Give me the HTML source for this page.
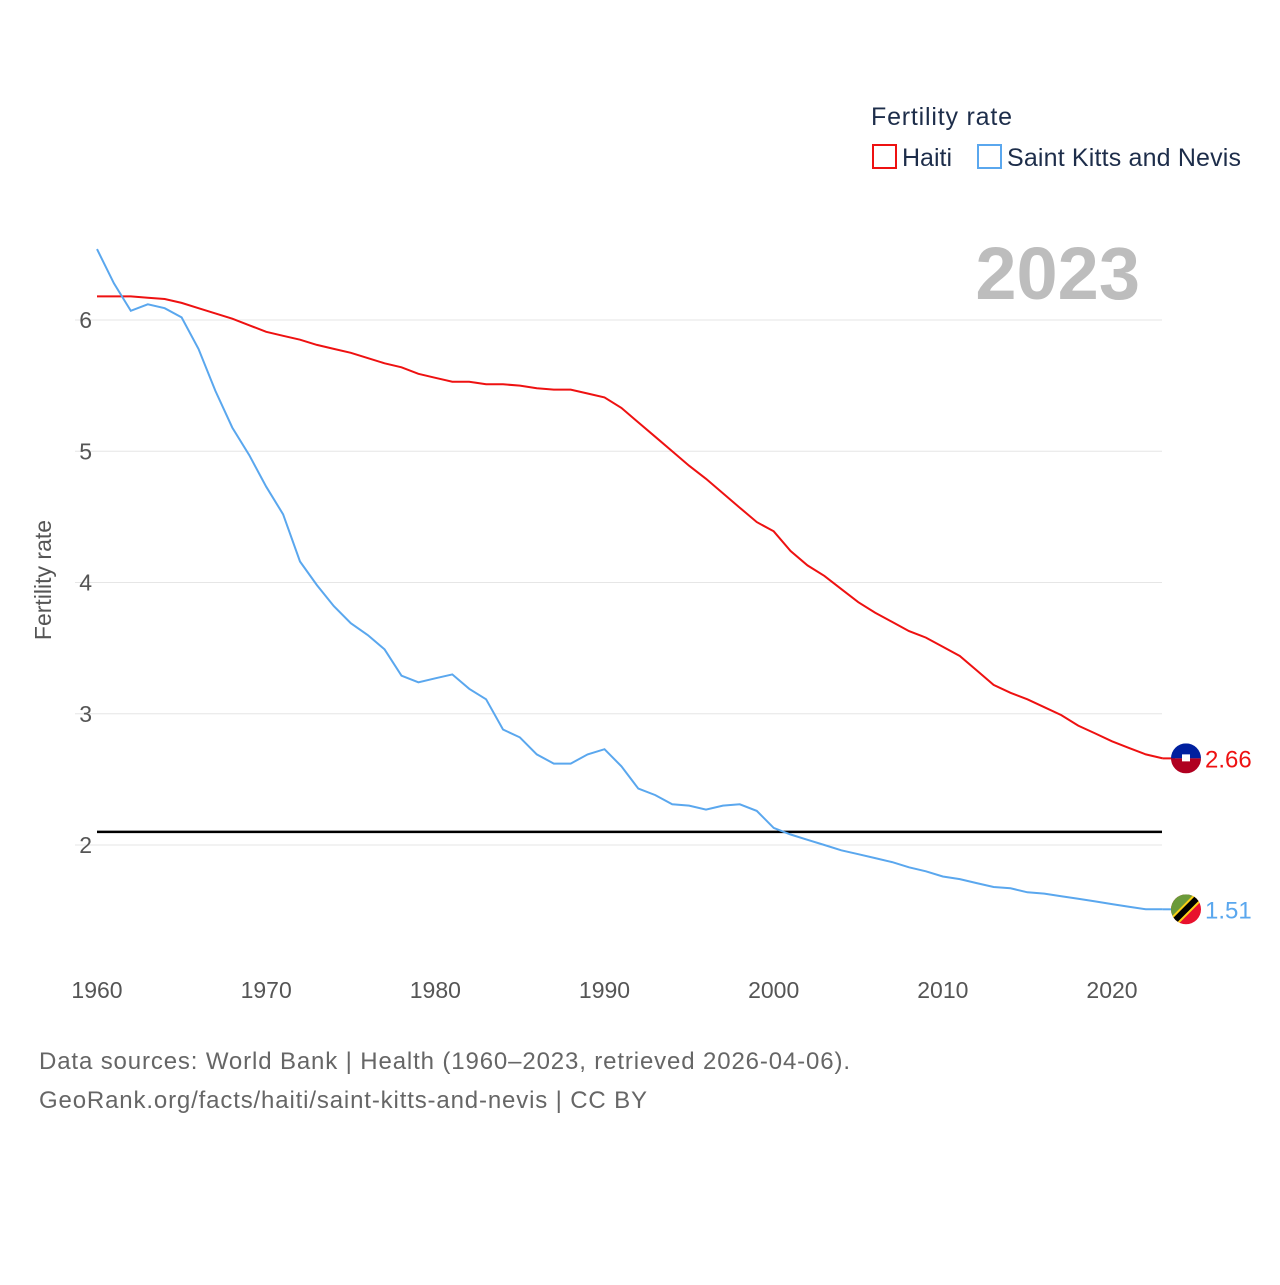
<!DOCTYPE html>
<html><head><meta charset="utf-8"><style>
body{margin:0;background:#fff}
svg text{font-family:"Liberation Sans",sans-serif}
</style></head><body>
<svg id="chart" width="1280" height="1280" viewBox="0 0 1280 1280" xmlns="http://www.w3.org/2000/svg">
<g id="grid"></g>
<g id="series"></g>
<text x="871" y="125" font-size="25" fill="#1d2d4a" textLength="141">Fertility rate</text>
<g><rect x="873" y="145" width="23" height="23" fill="none" stroke="#ee1111" stroke-width="2"/><text x="902" y="166" font-size="25" fill="#1d2d4a">Haiti</text></g>
<g><rect x="978" y="145" width="23" height="23" fill="none" stroke="#5aa7ee" stroke-width="2"/><text x="1007" y="166" font-size="25" fill="#1d2d4a" textLength="234">Saint Kitts and Nevis</text></g>
<text x="1140" y="299" font-size="74" font-weight="bold" fill="#bdbdbd" text-anchor="end">2023</text>
<text transform="translate(51,580) rotate(-90)" font-size="23" fill="#555" text-anchor="middle">Fertility rate</text>
<text x="39" y="1069" font-size="24" fill="#666" textLength="811">Data sources: World Bank | Health (1960–2023, retrieved 2026-04-06).</text>
<text x="39" y="1108" font-size="24" fill="#666" textLength="608">GeoRank.org/facts/haiti/saint-kitts-and-nevis | CC BY</text>
</svg>
<script>
const years=[];for(let y=1960;y<=2023;y++)years.push(y);
const haitiVals=[6.18,6.18,6.18,6.17,6.16,6.13,6.09,6.05,6.01,5.96,5.91,5.88,5.85,5.81,5.78,5.75,5.71,5.67,5.64,5.59,5.56,5.53,5.53,5.51,5.51,5.50,5.48,5.47,5.47,5.44,5.41,5.33,5.22,5.11,5.00,4.89,4.79,4.68,4.57,4.46,4.39,4.24,4.13,4.05,3.95,3.85,3.77,3.70,3.63,3.58,3.51,3.44,3.33,3.22,3.16,3.11,3.05,2.99,2.91,2.85,2.79,2.74,2.69,2.66];
const skn=[6.54,6.28,6.07,6.12,6.09,6.02,5.78,5.46,5.18,4.97,4.73,4.52,4.16,3.98,3.82,3.69,3.60,3.49,3.29,3.24,3.27,3.30,3.19,3.11,2.88,2.82,2.69,2.62,2.62,2.69,2.73,2.60,2.43,2.38,2.31,2.30,2.27,2.30,2.31,2.26,2.13,2.08,2.04,2.00,1.96,1.93,1.90,1.87,1.83,1.80,1.76,1.74,1.71,1.68,1.67,1.64,1.63,1.61,1.59,1.57,1.55,1.53,1.51,1.51];
const yTicks=[2,3,4,5,6];
const xTicks=[1960,1970,1980,1990,2000,2010,2020];
const replacement=2.1;
const NS="http://www.w3.org/2000/svg";
const X=y=>97+(y-1960)*(1112-97)/60;
const Y=v=>845-(v-2)*131.25;
const grid=document.getElementById('grid'),ser=document.getElementById('series');
function mk(tag,attrs,parent){const e=document.createElementNS(NS,tag);for(const k in attrs)e.setAttribute(k,attrs[k]);parent.appendChild(e);return e;}
yTicks.forEach(t=>{
 const l=mk('line',{x1:75,x2:1162,y1:Y(t),y2:Y(t),stroke:'#e6e6e6','stroke-width':1},grid);
 
 
 const tx=mk('text',{x:92,y:Y(t)+8,'font-size':23,fill:'#555','text-anchor':'end'},grid);tx.textContent=t;
 
 
});
xTicks.forEach(t=>{
 const tx=mk('text',{x:X(t),y:998,'font-size':23,fill:'#555','text-anchor':'middle'},grid);tx.textContent=t;
 
 
});
const rl=mk('line',{x1:97,x2:1162,y1:Y(replacement),y2:Y(replacement),stroke:'#000','stroke-width':2.5},ser);


function line(vals,color,name){
 const d=vals.map((v,i)=>(i?'L':'M')+X(years[i]).toFixed(1)+','+Y(v).toFixed(1)).join('');
 const p=mk('path',{d:d,fill:'none',stroke:color,'stroke-width':2},ser);
 
 
}
line(haitiVals,'#ee1111','haiti-line');
line(skn,'#5aa7ee','saint-kitts-line');
function endLabel(vals,color,name,flag){
 const v=vals[vals.length-1],x=X(years[years.length-1]),y=Y(v);
 mk('line',{x1:x,x2:1175,y1:y,y2:y,stroke:color,'stroke-width':2},ser);
 const g=mk('g',{},ser);
 
 
 const cx=1186;
 const cp=mk('clipPath',{id:'c'+name},g);mk('circle',{cx:cx,cy:y,r:15},cp);
 const inner=mk('g',{'clip-path':'url(#c'+name+')'},g);
 if(flag==='ht'){mk('rect',{x:cx-15,y:y-15,width:30,height:15,fill:'#00209f'},inner);mk('rect',{x:cx-15,y:y,width:30,height:15,fill:'#b00020'},inner);mk('rect',{x:cx-4,y:y-4,width:8,height:7,fill:'#fff'},inner);}
 else{mk('rect',{x:cx-15,y:y-15,width:30,height:30,fill:'#e8112d'},inner);mk('polygon',{points:(cx-15)+','+(y-15)+' '+(cx+15)+','+(y-15)+' '+(cx-15)+','+(y+15),fill:'#6a9a3a'},inner);mk('line',{x1:cx-15,y1:y+15,x2:cx+15,y2:y-15,stroke:'#fcd116','stroke-width':10},inner);mk('line',{x1:cx-15,y1:y+15,x2:cx+15,y2:y-15,stroke:'#000','stroke-width':6},inner);}
 const t=mk('text',{x:1205,y:y+9,'font-size':24,fill:color},ser);t.textContent=v.toFixed(2);
 
 
}
endLabel(haitiVals,'#ee1111','haiti','ht');
endLabel(skn,'#5aa7ee','saint-kitts','kn');
</script>
</body></html>
